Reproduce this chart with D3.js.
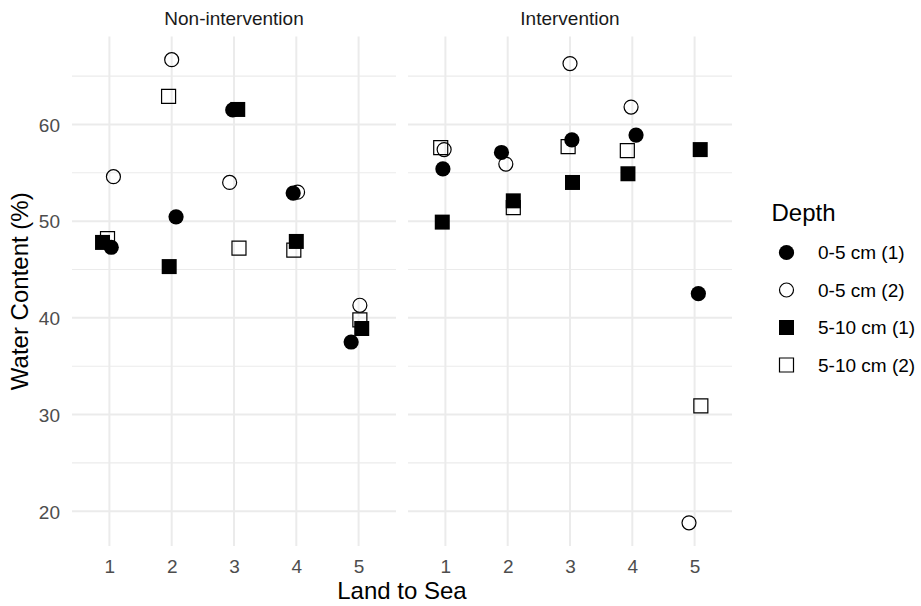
<!DOCTYPE html>
<html>
<head>
<meta charset="utf-8">
<script src="https://cdn.jsdelivr.net/npm/d3@7"></script>
<style>
  html, body { margin: 0; padding: 0; background: #ffffff; }
  svg { display: block; font-family: "Liberation Sans", Arial, sans-serif; }
</style>
</head>
<body>
<svg id="chart" width="921" height="606"></svg>
<script>
// Sampling positions along the land-to-sea transect
const categories = [1, 2, 3, 4, 5];
const panels = ["Non-intervention", "Intervention"];
const depthLabels = ["0-5 cm (1)", "0-5 cm (2)", "5-10 cm (1)", "5-10 cm (2)"];
const yTicks = [20, 30, 40, 50, 60];

// Water content (%) per depth series, Non-intervention panel
const nonA1 = [47.3, 50.45, 61.5, 52.9, 37.5];
const nonA2 = [54.6, 66.7, 54.0, 53.0, 41.3];
const nonB1 = [47.8, 45.3, 61.55, 47.9, 38.9];
const nonB2 = [48.2, 62.9, 47.2, 47.0, 39.8];
// Jittered x positions, Non-intervention panel
const nonA1x = [1.03, 2.07, 2.98, 3.95, 4.88];
const nonA2x = [1.065, 2.0, 2.93, 4.02, 5.02];
const nonB1x = [0.89, 1.96, 3.06, 4.0, 5.05];
const nonB2x = [0.97, 1.95, 3.08, 3.96, 5.02];

// Water content (%) per depth series, Intervention panel
const intA1 = [55.4, 57.1, 58.4, 58.9, 42.5];
const intA2 = [57.4, 55.9, 66.3, 61.8, 18.8];
const intB1 = [49.9, 52.1, 54.0, 54.9, 57.4];
const intB2 = [57.6, 51.4, 57.7, 57.3, 30.9];
// Jittered x positions, Intervention panel
const intA1x = [0.96, 1.90, 3.03, 4.06, 5.06];
const intA2x = [0.98, 1.97, 3.0, 3.98, 4.91];
const intB1x = [0.95, 2.09, 3.04, 3.93, 5.09];
const intB2x = [0.925, 2.09, 2.97, 3.92, 5.10];

const panelData = [
  [[nonA1, nonA1x], [nonA2, nonA2x], [nonB1, nonB1x], [nonB2, nonB2x]],
  [[intA1, intA1x], [intA2, intA2x], [intB1, intB1x], [intB2, intB2x]]
];

// shape per series: filled circle, open circle, filled square, open square
const shapes = [
  { sym: d3.symbolCircle, filled: true },
  { sym: d3.symbolCircle, filled: false },
  { sym: d3.symbolSquare, filled: true },
  { sym: d3.symbolSquare, filled: false }
];

const svg = d3.select("#chart");
const gridColor = "#EBEBEB";

const plotTop = 36.5, plotBottom = 546;
const panelX = [[72, 396], [408, 732]];

// y scale with 5% expansion around the data range
const allVals = panelData.flat().flatMap(d => d[0]);
const yMin = d3.min(allVals), yMax = d3.max(allVals);
const pad = (yMax - yMin) * 0.05;
const y = d3.scaleLinear().domain([yMin - pad, yMax + pad]).range([plotBottom, plotTop]);
const minorTicks = d3.range(15, 70, 10).filter(v => v > y.domain()[0] && v < y.domain()[1]);

function symbolPath(shape) {
  if (shape.sym === d3.symbolCircle) {
    return d3.symbol().type(d3.symbolCircle).size(shape.filled ? Math.PI * 7.6 * 7.6 : Math.PI * 7 * 7)();
  }
  return d3.symbol().type(d3.symbolSquare).size(shape.filled ? 15 * 15 : 14 * 14)();
}

panels.forEach((name, pi) => {
  const [x0, x1] = panelX[pi];
  const x = d3.scaleLinear().domain([0.4, 5.6]).range([x0, x1]);
  const g = svg.append("g");

  // minor horizontal grid
  g.selectAll(".minor").data(minorTicks).enter().append("line")
    .attr("x1", x0).attr("x2", x1)
    .attr("y1", d => y(d)).attr("y2", d => y(d))
    .attr("stroke", gridColor).attr("stroke-width", 1.1);

  // major horizontal grid
  g.selectAll(".major").data(yTicks).enter().append("line")
    .attr("x1", x0).attr("x2", x1)
    .attr("y1", d => y(d)).attr("y2", d => y(d))
    .attr("stroke", gridColor).attr("stroke-width", 2);

  // vertical grid at each category
  g.selectAll(".vgrid").data(categories).enter().append("line")
    .attr("x1", d => x(d)).attr("x2", d => x(d))
    .attr("y1", plotTop).attr("y2", plotBottom)
    .attr("stroke", gridColor).attr("stroke-width", 2);

  // x axis tick labels
  const xAxis = d3.axisBottom(x).tickValues(categories).tickFormat(d3.format("d"))
    .tickSize(0).tickPadding(0);
  const xa = g.append("g").attr("transform", `translate(0,${plotBottom})`).call(xAxis);
  xa.select(".domain").remove();
  xa.selectAll("text")
    .attr("y", 26.5).attr("dy", null)
    .attr("fill", "#4D4D4D").attr("font-size", 19)
    .attr("font-family", "Liberation Sans, Arial, sans-serif");

  // y axis labels on the first panel only
  if (pi === 0) {
    const yAxis = d3.axisLeft(y).tickValues(yTicks).tickFormat(d3.format("d"))
      .tickSize(0).tickPadding(0);
    const ya = g.append("g").attr("transform", `translate(60,0)`).call(yAxis);
    ya.select(".domain").remove();
    ya.selectAll("text")
      .attr("x", 0).attr("dy", "0.36em")
      .attr("fill", "#4D4D4D").attr("font-size", 19)
      .attr("font-family", "Liberation Sans, Arial, sans-serif");
  }

  // facet strip title
  g.append("text")
    .attr("x", (x0 + x1) / 2).attr("y", 24.5)
    .attr("text-anchor", "middle")
    .attr("font-size", 19).attr("fill", "#1A1A1A")
    .text(name);

  // points, drawn series by series
  panelData[pi].forEach((series, si) => {
    const [vals, xs] = series;
    const shape = shapes[si];
    const path = symbolPath(shape);
    g.selectAll(`.pt${si}`).data(vals.map((v, i) => ({ v, xj: xs[i] }))).enter().append("path")
      .attr("d", path)
      .attr("transform", d => `translate(${x(d.xj)},${y(d.v)})`)
      .attr("fill", shape.filled ? "#000000" : "none")
      .attr("stroke", shape.filled ? "none" : "#000000")
      .attr("stroke-width", shape.filled ? 0 : 1.2);
  });
});

// axis titles
svg.append("text")
  .attr("x", (panelX[0][0] + panelX[1][1]) / 2).attr("y", 599)
  .attr("text-anchor", "middle").attr("font-size", 24).attr("fill", "#000000")
  .text("Land to Sea");

svg.append("text")
  .attr("transform", `translate(28,${(plotTop + plotBottom) / 2}) rotate(-90)`)
  .attr("text-anchor", "middle").attr("font-size", 24).attr("fill", "#000000")
  .text("Water Content (%)");

// legend
const legend = svg.append("g");
legend.append("text")
  .attr("x", 771.5).attr("y", 220.5)
  .attr("font-size", 24).attr("fill", "#000000")
  .text("Depth");

depthLabels.forEach((lab, i) => {
  const cy = 252.5 + i * 37.5;
  const shape = shapes[i];
  legend.append("path")
    .attr("d", symbolPath(shape))
    .attr("transform", `translate(786.5,${cy})`)
    .attr("fill", shape.filled ? "#000000" : "none")
    .attr("stroke", shape.filled ? "none" : "#000000")
    .attr("stroke-width", shape.filled ? 0 : 1.2);
  legend.append("text")
    .attr("x", 818).attr("y", cy).attr("dy", "0.36em")
    .attr("font-size", 19).attr("fill", "#000000")
    .text(lab);
});
</script>
</body>
</html>
